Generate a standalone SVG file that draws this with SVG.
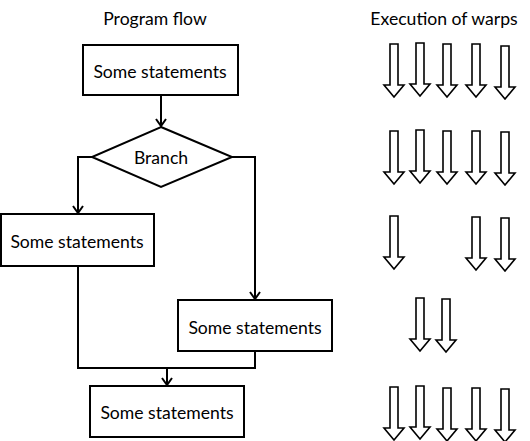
<svg xmlns="http://www.w3.org/2000/svg" width="530" height="441" viewBox="0 0 530 441">
<style>
text{font-family:"Lato","Open Sans","Liberation Sans",sans-serif;font-size:17.6px;fill:#000;text-anchor:middle;dominant-baseline:central}
.box{fill:#fff;stroke:#000;stroke-width:2}
.conn{fill:none;stroke:#000;stroke-width:2}
.warp{fill:#fff;stroke:#000;stroke-width:1.6;stroke-linejoin:miter}
</style>
<defs>
<marker id="ah" markerWidth="12" markerHeight="12" refX="10" refY="6" orient="auto" markerUnits="userSpaceOnUse" viewBox="0 0 12 12">
<polyline points="3,1 10,6 3,11" fill="none" stroke="#000" stroke-width="2"/>
</marker>
<path id="warp" class="warp" d="M-4,0 H4 V41 H10 L0,53 L-10,41 H-4 Z"/>
</defs>
<text x="155" y="18">Program flow</text>
<text x="444" y="18">Execution of warps</text>
<g id="connectors">
<path class="conn" d="M161,95 V126" marker-end="url(#ah)"/>
<path class="conn" d="M92,157 H78 V213" marker-end="url(#ah)"/>
<path class="conn" d="M232,157 H255 V299" marker-end="url(#ah)"/>
<path class="conn" d="M78,266 V368 H255 V351"/>
<path class="conn" d="M167,368 V385" marker-end="url(#ah)"/>
</g>
<g id="n1"><rect class="box" x="83" y="45" width="155" height="50"/><text x="160" y="71">Some statements</text></g>
<g id="n2"><polygon class="box" points="161,127 232,157 161,187 92,157"/><text x="161" y="157">Branch</text></g>
<g id="n3"><rect class="box" x="1" y="214" width="153" height="52"/><text x="77" y="241">Some statements</text></g>
<g id="n4"><rect class="box" x="178" y="300" width="154" height="51"/><text x="255" y="327">Some statements</text></g>
<g id="n5"><rect class="box" x="90" y="386" width="154" height="51"/><text x="167" y="412">Some statements</text></g>
<g id="warps">
<use href="#warp" x="394" y="44"/><use href="#warp" x="420" y="43"/><use href="#warp" x="447" y="44"/><use href="#warp" x="476" y="44"/><use href="#warp" x="505" y="46"/>
<use href="#warp" x="394" y="131"/><use href="#warp" x="420" y="130"/><use href="#warp" x="447" y="131"/><use href="#warp" x="476" y="131"/><use href="#warp" x="505" y="132"/>
<use href="#warp" x="394" y="216"/><use href="#warp" x="476" y="217"/><use href="#warp" x="505" y="218"/>
<use href="#warp" x="420" y="298"/><use href="#warp" x="446" y="299"/>
<use href="#warp" x="394" y="387"/><use href="#warp" x="420" y="386"/><use href="#warp" x="447" y="388"/><use href="#warp" x="476" y="388"/><use href="#warp" x="505" y="389"/>
</g>
</svg>
